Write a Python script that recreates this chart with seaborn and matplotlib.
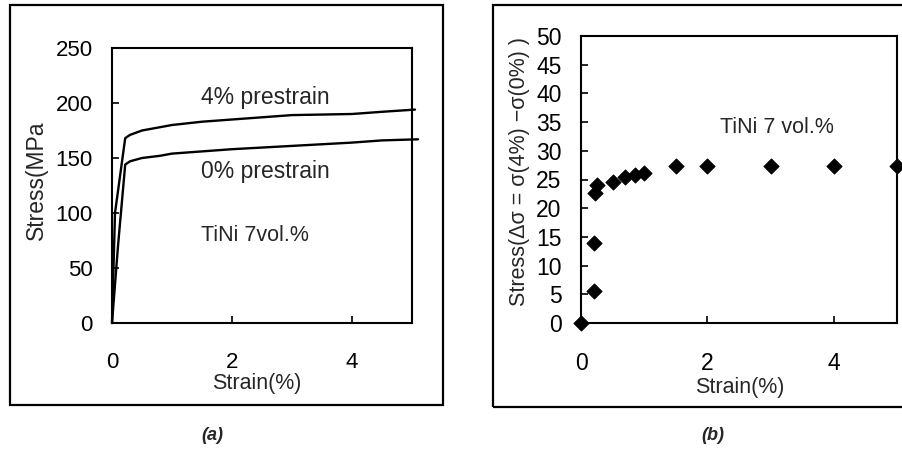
import matplotlib
matplotlib.use("Agg")
import matplotlib.pyplot as plt
import seaborn as sns
import pandas as pd
from matplotlib.patches import Rectangle

sns.set_theme(style="white")
plt.rcParams['font.family'] = ['Liberation Sans', 'DejaVu Sans']

# Panel (a) data
strain_4 = [0.0, 0.05, 0.22, 0.3, 0.5, 0.8, 1.0, 1.5, 2.0, 2.5, 3.0, 3.5, 4.0, 4.5, 5.05]
stress_4 = [0.0, 100.0, 168.0, 171.0, 175.0, 178.0, 180.0, 183.0, 185.0, 187.0, 189.0, 189.5, 190.0, 192.0, 194.0]
strain_0 = [0.0, 0.1, 0.22, 0.3, 0.5, 0.8, 1.0, 1.5, 2.0, 2.5, 3.0, 3.5, 4.0, 4.5, 5.1]
stress_0 = [0.0, 70.0, 144.0, 147.0, 150.0, 152.0, 154.0, 156.0, 158.0, 159.5, 161.0, 162.5, 164.0, 166.0, 167.0]

# Panel (b) data
strain_b = [0.0, 0.2, 0.2, 0.22, 0.25, 0.5, 0.7, 0.85, 1.0, 1.5, 2.0, 3.0, 4.0, 5.0]
dsigma_b = [0.0, 5.5, 14.0, 22.6, 24.0, 24.6, 25.4, 25.8, 26.2, 27.3, 27.3, 27.3, 27.3, 27.3]

xticks = [0, 2, 4]
yticks_a = [0, 50, 100, 150, 200, 250]
yticks_b = list(range(0, 55, 5))

W, H = 902, 458
fig = plt.figure(figsize=(W / 100, H / 100), dpi=100)

def fx(px):
    return px / W

def fy(py):
    return 1 - py / H

# Frames around panels
fig.patches.append(Rectangle((fx(10), fy(405)), fx(443) - fx(10), fy(5) - fy(405),
                             transform=fig.transFigure, fill=False, lw=1.6, ec='black'))
fig.patches.append(Rectangle((fx(493), fy(407)), fx(905) - fx(493), fy(5) - fy(407),
                             transform=fig.transFigure, fill=False, lw=1.6, ec='black', clip_on=False))

ax1 = fig.add_axes([fx(112), fy(323), fx(412) - fx(112), fy(48) - fy(323)])
ax2 = fig.add_axes([fx(581), fy(323), fx(897) - fx(581), fy(36) - fy(323)])

df4 = pd.DataFrame({'strain': strain_4, 'stress': stress_4})
df0 = pd.DataFrame({'strain': strain_0, 'stress': stress_0})
sns.lineplot(data=df4, x='strain', y='stress', ax=ax1, color='black', lw=1.7, sort=False,
             estimator=None, clip_on=False)
sns.lineplot(data=df0, x='strain', y='stress', ax=ax1, color='black', lw=1.7, sort=False,
             estimator=None, clip_on=False)
ax1.set_xlim(0, 5)
ax1.set_ylim(0, 250)
ax1.set_xticks(xticks)
ax1.set_yticks(yticks_a)
ax1.set_xlabel('')
ax1.set_ylabel('')

dfb = pd.DataFrame({'strain': strain_b, 'dsigma': dsigma_b})
sns.scatterplot(data=dfb, x='strain', y='dsigma', ax=ax2, marker='D', s=60, color='black',
                edgecolor='black', clip_on=False, zorder=5)
ax2.set_xlim(0, 5)
ax2.set_ylim(0, 50)
ax2.set_xticks(xticks)
ax2.set_yticks(yticks_b)
ax2.set_xlabel('')
ax2.set_ylabel('')

for ax in (ax1, ax2):
    for sp in ax.spines.values():
        sp.set_visible(True)
        sp.set_color('black')
        sp.set_linewidth(1.5)
    ax.tick_params(axis='both', direction='in', length=5, width=1.2, color='black',
                   labelcolor='black')
    ax.tick_params(axis='x', pad=21, bottom=True)
    ax.tick_params(axis='y', pad=14, left=True)
ax1.tick_params(axis='both', labelsize=16)
ax2.tick_params(axis='both', labelsize=16.5)

# Panel (a) text
ax1.text(2.55, 205, '4% prestrain', fontsize=16.5, ha='center', va='center')
ax1.text(2.55, 138, '0% prestrain', fontsize=16.5, ha='center', va='center')
ax1.text(2.38, 80, 'TiNi 7vol.%', fontsize=15.5, ha='center', va='center')
fig.text(fx(36), fy(180), 'Stress(MPa', rotation=90, fontsize=16.5, ha='center', va='center')
fig.text(fx(257), fy(384), 'Strain(%)', fontsize=15.5, ha='center', va='center')
fig.text(fx(212), fy(436), '(a)', fontsize=13, fontweight='bold', style='italic',
         ha='center', va='center')

# Panel (b) text
ax2.text(3.1, 34, 'TiNi 7 vol.%', fontsize=15.5, ha='center', va='center')
fig.text(fx(520), fy(172), 'Stress(Δσ = σ(4%) −σ(0%) )', rotation=90, fontsize=15.5,
         ha='center', va='center')
fig.text(fx(740), fy(387), 'Strain(%)', fontsize=15.5, ha='center', va='center')
fig.text(fx(713), fy(436), '(b)', fontsize=13, fontweight='bold', style='italic',
         ha='center', va='center')

fig.savefig('out.png', dpi=100)
